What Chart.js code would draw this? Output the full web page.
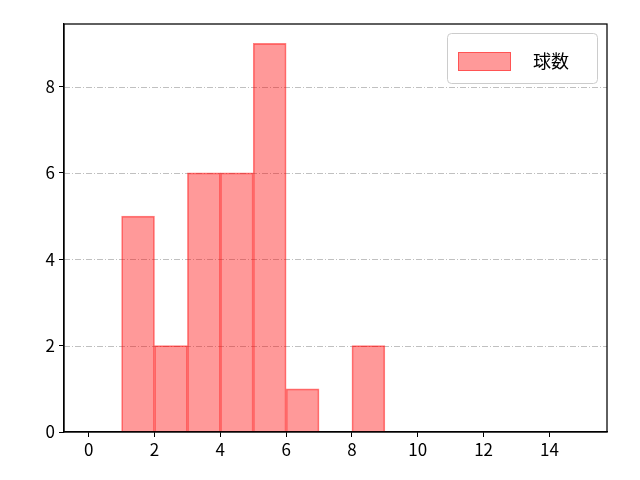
<!DOCTYPE html>
<html lang="ja">
<head>
    <meta charset="UTF-8">
    <title>球数</title>
    <script src="https://cdn.jsdelivr.net/npm/chart.js"></script>
    <style>
        body { margin: 0; background: #fff; }
        #wrap { width: 640px; height: 480px; }
    </style>
</head>
<body>
    <div id="wrap"><canvas id="c" width="640" height="480"></canvas></div>
    <script>
        // ヒストグラムのビン（中心）と度数
        const binCenters = [1.5, 2.5, 3.5, 4.5, 5.5, 6.5, 8.5];
        const counts = [5, 2, 6, 6, 9, 1, 2];
        const seriesLabel = '球数';
        const xTicks = [0, 2, 4, 6, 8, 10, 12, 14];
        const yTicks = [0, 2, 4, 6, 8];

        const FONT = '"Noto Sans CJK JP", "DejaVu Sans", sans-serif';

        // 枠線・点線グリッド・凡例を描く
        const framePlugin = {
            id: 'frame',
            beforeDatasetsDraw(chart) {
                const { ctx, chartArea: a, scales } = chart;
                ctx.save();
                ctx.strokeStyle = '#b0b0b0';
                ctx.lineWidth = 0.8;
                ctx.setLineDash([6, 2, 1, 2]);
                yTicks.slice(1).forEach(v => {
                    const y = Math.round(scales.y.getPixelForValue(v)) + 0.5;
                    ctx.beginPath();
                    ctx.moveTo(a.left, y);
                    ctx.lineTo(a.right, y);
                    ctx.stroke();
                });
                ctx.restore();
            },
            afterDraw(chart) {
                const { ctx, chartArea: a } = chart;
                ctx.save();
                ctx.strokeStyle = '#000';
                ctx.lineWidth = 1.25;
                ctx.strokeRect(a.left, a.top, a.right - a.left, a.bottom - a.top);

                // 凡例
                const w = 150, h = 50;
                const x = a.right - 10 - w, y = a.top + 9;
                ctx.fillStyle = 'rgba(255,255,255,0.8)';
                ctx.strokeStyle = '#cccccc';
                ctx.lineWidth = 1;
                ctx.beginPath();
                ctx.roundRect(x + 0.5, y + 0.5, w, h, 4);
                ctx.fill();
                ctx.stroke();
                ctx.fillStyle = 'rgba(255,0,0,0.4)';
                ctx.fillRect(x + 11, y + 19, 53, 19);
                ctx.strokeStyle = 'rgba(255,0,0,0.45)';
                ctx.strokeRect(x + 11.5, y + 19.5, 52, 18);
                ctx.fillStyle = '#000';
                ctx.font = '18px ' + FONT;
                ctx.textBaseline = 'middle';
                ctx.fillText(seriesLabel, x + 86, y + 28);
                ctx.restore();
            }
        };

        new Chart(document.getElementById('c'), {
            type: 'bar',
            data: {
                datasets: [{
                    label: seriesLabel,
                    data: binCenters.map((x, i) => ({ x: x, y: counts[i] })),
                    backgroundColor: 'rgba(255,0,0,0.4)',
                    borderColor: 'rgba(255,0,0,0.5)',
                    borderWidth: 1,
                    barPercentage: 1,
                    categoryPercentage: 1,
                    grouped: false
                }]
            },
            options: {
                responsive: false,
                animation: false,
                layout: { padding: { left: 0, right: 33, top: 24, bottom: 0 } },
                plugins: { legend: { display: false }, tooltip: { enabled: false } },
                scales: {
                    x: {
                        type: 'linear',
                        offset: false,
                        min: -0.75,
                        max: 15.75,
                        afterBuildTicks: s => { s.ticks = xTicks.map(v => ({ value: v })); },
                        grid: { offset: false, drawOnChartArea: false, color: '#000', tickLength: 5, lineWidth: 1 },
                        border: { color: '#000', width: 1.25 },
                        ticks: { color: '#000', font: { family: FONT, size: 17 }, padding: 2, maxRotation: 0 },
                        afterFit: s => { s.height = 48; }
                    },
                    y: {
                        min: 0,
                        max: 9.45,
                        afterBuildTicks: s => { s.ticks = yTicks.map(v => ({ value: v })); },
                        grid: { drawOnChartArea: false, color: '#000', tickLength: 5, lineWidth: 1 },
                        border: { color: '#000', width: 1.25 },
                        ticks: { color: '#000', font: { family: FONT, size: 17 }, padding: 4 },
                        afterFit: s => { s.width = 64; }
                    }
                }
            },
            plugins: [framePlugin]
        });
    </script>
</body>
</html>
